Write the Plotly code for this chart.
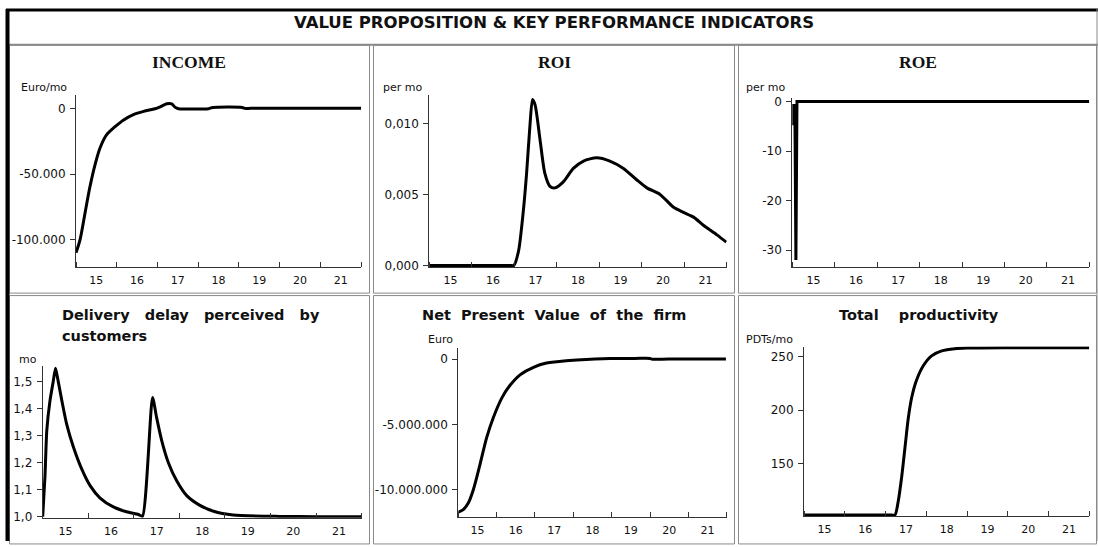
import plotly.graph_objects as go

W, H = 1098, 547

# ---------------- data ----------------
years = [15, 16, 17, 18, 19, 20, 21]
year_labels = ["15", "16", "17", "18", "19", "20", "21"]

income_t = [15.0, 15.1, 15.22, 15.34, 15.47, 15.59, 15.75, 15.96, 16.16, 16.41, 16.66, 16.94,
            17.07, 17.23, 17.35, 17.43, 17.52, 17.7, 18.25, 18.3, 18.36, 19.08, 19.14, 19.3, 22.0]
income_v = [-110000, -100000, -80000, -60000, -42500, -30000, -20000, -13750, -8750, -4500, -2000, 0,
            1500, 3750, 3750, 1250, 0, -200, 0, 500, 1000, 1000, 300, 300, 300]
income_ticks = [-100000, -50000, 0]
income_ticktext = ["-100.000", "-50.000", "0"]

roi_t = [15.0, 15.5, 16.0, 16.5, 16.9, 16.99, 17.1, 17.21, 17.29, 17.37, 17.43, 17.49, 17.61, 17.72,
         17.84, 17.96, 18.16, 18.39, 18.63, 18.94, 19.25, 19.57, 19.88, 20.12, 20.43, 20.75, 20.98,
         21.22, 21.45, 21.77, 21.99]
roi_v = [0.0, 0.0, 0.0, 0.0, 0.0, 0.0, 0.0010, 0.00374, 0.00648, 0.0099, 0.01169, 0.0113, 0.00877,
         0.00648, 0.00557, 0.00546, 0.0059, 0.00683, 0.00735, 0.00758, 0.00735, 0.00683, 0.00603,
         0.00546, 0.0050, 0.00409, 0.00374, 0.0034, 0.00283, 0.00215, 0.00164]
roi_ticks = [0.0, 0.005, 0.010]
roi_ticktext = ["0,000", "0,005", "0,010"]

roe_t = [15.0, 15.02, 15.035, 15.06, 15.085, 15.11, 22.0]
roe_v = [-0.5, -4.8, -0.8, -0.8, -32.0, 0.0, 0.0]
roe_ticks = [-30, -20, -10, 0]
roe_ticktext = ["-30", "-20", "-10", "0"]

delay_t = [15.0, 15.05, 15.09, 15.16, 15.23, 15.28, 15.32, 15.42, 15.53, 15.67, 15.86, 16.04, 16.26,
           16.55, 16.84, 17.1, 17.19, 17.41, 17.5, 17.61, 17.76, 17.94, 18.16, 18.45, 18.75, 19.18,
           20.2, 21.0, 22.0]
delay_v = [1.0, 1.15, 1.32, 1.43, 1.50, 1.55, 1.52, 1.43, 1.34, 1.26, 1.175, 1.115, 1.069,
           1.036, 1.018, 1.008, 1.002, 1.442, 1.367, 1.283, 1.199, 1.133, 1.078, 1.042, 1.02, 1.006,
           1.001, 1.0, 1.0]
delay_ticks = [1.0, 1.1, 1.2, 1.3, 1.4, 1.5]
delay_ticktext = ["1,0", "1,1", "1,2", "1,3", "1,4", "1,5"]

npv_t = [15.0, 15.13, 15.26, 15.39, 15.57, 15.74, 15.91, 16.13, 16.35, 16.61, 16.96, 17.3, 17.57,
         18.09, 18.96, 19.6, 20.0, 20.04, 20.5, 21.98]
npv_v = [-11.7e6, -11.5e6, -11.0e6, -10.0e6, -8.0e6, -6.0e6, -4.5e6, -3.0e6, -2.0e6, -1.2e6,
         -0.625e6, -0.3e6, -0.2e6, -0.075e6, 0.05e6, 0.05e6, 0.05e6, 0.0, 0.0, 0.0]
npv_ticks = [-10e6, -5e6, 0]
npv_ticktext = ["-10.000.000", "-5.000.000", "0"]

prod_t = [15.0, 16.0, 16.8, 17.15, 17.23, 17.31, 17.4, 17.48, 17.56, 17.64, 17.76, 17.93, 18.13,
          18.38, 18.7, 19.03, 20.0, 22.0]
prod_v = [102, 102, 102, 102, 102, 114.5, 138.8, 166, 193, 211.5, 228, 241.8, 250.9,
          255.5, 257.6, 258.2, 258.5, 258.5]
prod_ticks = [150, 200, 250]
prod_ticktext = ["150", "200", "250"]

# ---------------- layout helpers (pixel -> paper) ----------------
def px(x):
    return x / W


def py(y):
    return 1 - y / H


SANS = "DejaVu Sans"
SERIF = "Liberation Serif"
INK = "#111111"
AXIS = "#333333"
FRAME = "#8a8a8a"

panels = [
    dict(t=income_t, v=income_v, ticks=income_ticks, ticktext=income_ticktext, smooth=0.9,
         xd=(76, 361), yd=(92.7, 268), yr=(-121000, 10500)),
    dict(t=roi_t, v=roi_v, ticks=roi_ticks, ticktext=roi_ticktext, smooth=0.7,
         xd=(429.3, 726.7), yd=(92.7, 268), yr=(-0.00012, 0.0120)),
    dict(t=roe_t, v=roe_v, ticks=roe_ticks, ticktext=roe_ticktext, smooth=None,
         xd=(792.3, 1089.3), yd=(96, 267.7), yr=(-33.37, 0.65)),
    dict(t=delay_t, v=delay_v, ticks=delay_ticks, ticktext=delay_ticktext, smooth=0.6,
         xd=(42.7, 361.7), yd=(368.3, 523.3), yr=(0.996, 1.56)),
    dict(t=npv_t, v=npv_v, ticks=npv_ticks, ticktext=npv_ticktext, smooth=0.9,
         xd=(458.3, 726.7), yd=(350, 522.7), yr=(-12.08e6, 0.88e6)),
    dict(t=prod_t, v=prod_v, ticks=prod_ticks, ticktext=prod_ticktext, smooth=0.8,
         xd=(804, 1089.3), yd=(349, 521.7), yr=(101, 259.5)),
]

fig = go.Figure()
layout = {}
for i, p in enumerate(panels, start=1):
    xa = "x" if i == 1 else f"x{i}"
    ya = "y" if i == 1 else f"y{i}"
    if p["smooth"] is None:
        line = dict(color="#000000", width=3)
    else:
        line = dict(color="#000000", width=3, shape="spline", smoothing=p["smooth"])
    fig.add_trace(go.Scatter(x=p["t"], y=p["v"], mode="lines", xaxis=xa, yaxis=ya,
                             line=line, showlegend=False, hoverinfo="skip"))
    xkey = "xaxis" if i == 1 else f"xaxis{i}"
    ykey = "yaxis" if i == 1 else f"yaxis{i}"
    layout[xkey] = dict(
        domain=[px(p["xd"][0]), px(p["xd"][1])], anchor=ya, range=[15, 22],
        tickmode="array", tickvals=[y + 0.5 for y in years], ticktext=year_labels,
        ticks="", showgrid=False, zeroline=False, showline=True,
        linecolor=AXIS, linewidth=1, ticklabelstandoff=3,
        tickfont=dict(family=SANS, size=11, color=INK),
        minor=dict(tickmode="array", tickvals=years + [22], ticks="inside",
                   ticklen=5, tickwidth=1, tickcolor=AXIS, showgrid=False),
        fixedrange=True,
    )
    layout[ykey] = dict(
        domain=[py(p["yd"][1]), py(p["yd"][0])], anchor=xa, range=list(p["yr"]),
        tickmode="array", tickvals=p["ticks"], ticktext=p["ticktext"],
        ticks="outside", ticklen=5, tickwidth=1, tickcolor=AXIS,
        showgrid=False, zeroline=False, showline=True, linecolor=AXIS, linewidth=1,
        tickfont=dict(family=SANS, size=12, color=INK), ticklabelstandoff=2,
        fixedrange=True,
    )

# ---------------- frames ----------------
shapes = []
def rect(x0, y0, x1, y1, color=FRAME, width=1):
    shapes.append(dict(type="rect", xref="paper", yref="paper",
                       x0=px(x0), x1=px(x1), y0=py(y1), y1=py(y0),
                       line=dict(color=color, width=width), fillcolor="rgba(0,0,0,0)",
                       layer="below"))

def hline(x0, x1, y, color, width):
    shapes.append(dict(type="line", xref="paper", yref="paper", x0=px(x0), x1=px(x1),
                       y0=py(y), y1=py(y), line=dict(color=color, width=width)))

def vline(x, y0, y1, color, width):
    shapes.append(dict(type="line", xref="paper", yref="paper", x0=px(x), x1=px(x),
                       y0=py(y0), y1=py(y1), line=dict(color=color, width=width)))

# panel boxes
for (x0, x1) in [(9.5, 369.5), (373.5, 734.5), (738.5, 1096.5)]:
    rect(x0, 42, x1, 294.5)
    rect(x0, 297, x1, 550)
# title box and outer border
hline(9, 1098, 41.5, FRAME, 2)
hline(6, 1098, 6, "#000000", 3)
vline(7.5, 5, 547, "#000000", 4)
vline(1097, 5, 547, FRAME, 1)

# ---------------- text ----------------
annotations = []
def text(s, x, y, size, family=SANS, xanchor="center", color=INK):
    annotations.append(dict(text=s, x=px(x), y=py(y), xref="paper", yref="paper",
                            xanchor=xanchor, yanchor="middle", showarrow=False,
                            font=dict(family=family, size=size, color=color)))

text("<b>VALUE PROPOSITION &amp; KEY PERFORMANCE INDICATORS</b>", 554, 18.5, 16.5)

text("<b>INCOME</b>", 189, 59, 17.5, family=SERIF)
text("<b>ROI</b>", 554, 59, 17.5, family=SERIF)
text("<b>ROE</b>", 918, 59, 17.5, family=SERIF)
nb = "\u00a0"
text(f"<b>Delivery{nb*3}delay{nb*3}perceived{nb*3}by</b>", 60, 317, 14.5, xanchor="left")
text("<b>customers</b>", 60, 338, 14.5, xanchor="left")
text(f"<b>Net{nb*2}Present{nb*2}Value{nb*2}of{nb*2}the{nb*2}firm</b>", 554, 317, 14.5)
text(f"<b>Total{nb*4}productivity</b>", 919, 317, 14.5)

text("Euro/mo", 19, 85, 11, xanchor="left")
text("per mo", 381, 85, 11, xanchor="left")
text("per mo", 744, 85, 11, xanchor="left")
text("mo", 16.5, 362, 11, xanchor="left")
text("Euro", 426, 342, 11, xanchor="left")
text("PDTs/mo", 744, 342, 11, xanchor="left")

fig.update_layout(
    width=W, height=H, margin=dict(l=0, r=0, t=0, b=0),
    paper_bgcolor="#ffffff", plot_bgcolor="#ffffff",
    shapes=shapes, annotations=annotations, showlegend=False,
    **layout,
)

fig.write_html("out.html", config={"displayModeBar": False})
